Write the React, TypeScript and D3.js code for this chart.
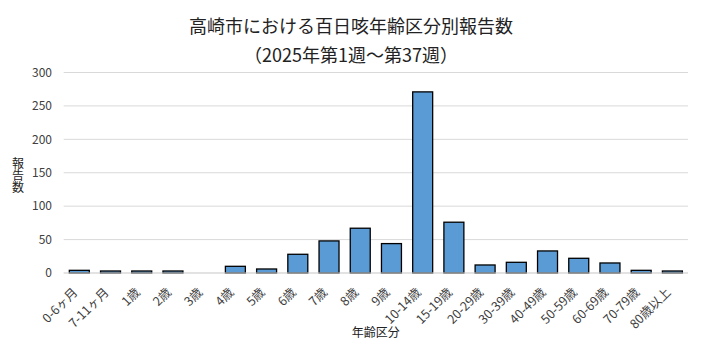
import React from "react";
import * as d3 from "d3";

const categories = ["0-6ヶ月","7-11ヶ月","1歳","2歳","3歳","4歳","5歳","6歳","7歳","8歳","9歳","10-14歳","15-19歳","20-29歳","30-39歳","40-49歳","50-59歳","60-69歳","70-79歳","80歳以上"];
const values = [4,3,3,3,0,10,6,28,48,67,44,271,76,12,16,33,22,15,4,3];
const yTicks = [0,50,100,150,200,250,300];
const titleLines = ["高崎市における百日咳年齢区分別報告数","（2025年第1週～第37週）"];
const xTitle = "年齢区分";
const yTitle = "報告数";

const W = 701, H = 357;
const left = 63.7, right = 688, top = 72.5, bottom = 273;
const font = "'Noto Sans CJK JP', 'Noto Sans', sans-serif";

export default function App() {
  const x = d3.scaleBand<string>().domain(categories).range([left, right]).paddingInner(0.36).paddingOuter(0.18);
  const y = d3.scaleLinear().domain([0, 300]).range([bottom, top]);
  return (
    <svg width={W} height={H} style={{ position: "absolute", left: 0, top: 0, background: "#fff" }}>
      <rect x={0} y={0} width={W} height={H} fill="#fff" />
      {titleLines.map((t, i) => (
        <text key={i} x={351} y={33 + i * 29} textAnchor="middle" fontFamily={font} fontSize={18} fill="#222">{t}</text>
      ))}
      {yTicks.map((t) => (
        <g key={t}>
          <line x1={left} x2={right} y1={y(t)} y2={y(t)} stroke="#d9d9d9" strokeWidth={1} />
          <text x={52} y={y(t)} dy="0.35em" textAnchor="end" fontFamily={font} fontSize={12} fill="#404040">{t}</text>
        </g>
      ))}
      {categories.map((c, i) => (
        <rect key={c} x={x(c)} y={y(values[i])} width={x.bandwidth()} height={bottom - y(values[i])}
          fill="#5b9bd5" stroke="#000" strokeWidth={1.3} style={{ display: values[i] > 0 ? undefined : "none" }} />
      ))}
      <line x1={left} x2={right} y1={bottom} y2={bottom} stroke="#d9d9d9" strokeWidth={1} />
      {categories.map((c) => {
        const cx = (x(c) as number) + x.bandwidth() / 2 - 4;
        return (
          <text key={c} transform={`translate(${cx},${bottom + 17}) rotate(-45)`} textAnchor="end" dy="0.35em"
            fontFamily={font} fontSize={12.5} fill="#404040">{c}</text>
        );
      })}
      <text x={(left + right) / 2} y={337} textAnchor="middle" fontFamily={font} fontSize={12} fill="#222">{xTitle}</text>
      <text x={18} y={157} fontFamily={font} fontSize={12} fill="#222"
        style={{ writingMode: "vertical-rl", textOrientation: "upright" } as any}>{yTitle}</text>
    </svg>
  );
}
